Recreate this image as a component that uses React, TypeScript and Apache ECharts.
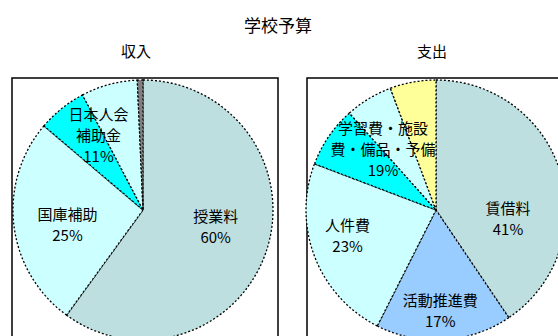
import React, { useEffect, useRef } from "react";
import * as echarts from "echarts";

const chartTitle = "学校予算";
const incomeTitle = "収入";
const expenseTitle = "支出";

const incomeCategories = ["授業料", "国庫補助", "日本人会補助金", "その他", "雑収入"];
const incomeValues = [60, 26.2, 6.1, 7.0, 0.7];
const incomeLabels = ["授業料\n60%", "国庫補助\n25%", "日本人会\n補助金\n11%", "", ""];
const incomeColors = ["#BEDFE0", "#CCFFFF", "#00FFFF", "#CCFFFF", "#7F7F7F"];
const incomeOffsets = [[8, -5], [-8, 6], [-2, -22], [0, 0], [0, 0]];

const expenseCategories = ["賃借料", "活動推進費", "人件費", "学習費", "施設費", "予備費"];
const expenseValues = [40.5, 16.9, 23.3, 7.6, 5.9, 5.7];
const expenseLabels = ["賃借料\n41%", "活動推進費\n17%", "人件費\n23%", "学習費・施設\n費・備品・予備\n19%", "", ""];
const expenseColors = ["#BEDFE0", "#99CCFF", "#CCFFFF", "#00FFFF", "#CCFFFF", "#FFFF99"];
const expenseOffsets = [[7, 28], [0, 32], [-25, 0], [3, -23], [0, 0], [0, 0]];

const FONT = '"Noto Sans CJK JP", sans-serif';

function buildData(cats: string[], vals: number[], labels: string[], colors: string[], offsets: number[][]) {
  return cats.map((name, i) => ({
    name,
    value: vals[i],
    itemStyle: { color: colors[i] },
    label: labels[i]
      ? { show: true, formatter: labels[i], offset: offsets[i] }
      : { show: false },
  }));
}

export default function App() {
  const ref = useRef<HTMLDivElement>(null);
  useEffect(() => {
    if (!ref.current) return;
    const chart = echarts.init(ref.current, undefined, { renderer: "svg" });
    const pieCommon = {
      type: "pie",
      radius: 130,
      startAngle: 90,
      clockwise: true,
      silent: true,
      avoidLabelOverlap: false,
      labelLine: { show: false },
      emphasis: { disabled: true },
      itemStyle: { borderColor: "#000", borderWidth: 1.3, borderType: [2, 2] },
      label: {
        show: true,
        position: "inside",
        color: "#000",
        fontFamily: FONT,
        fontSize: 15,
        lineHeight: 21,
        align: "center",
      },
    };
    chart.setOption({
      animation: false,
      backgroundColor: "#fff",
      graphic: [
        {
          type: "text",
          x: 278,
          y: 24,
          style: { text: chartTitle, font: `17px ${FONT}`, fill: "#000", align: "center", verticalAlign: "middle", textAlign: "center", textVerticalAlign: "middle" },
        },
        {
          type: "text",
          x: 136,
          y: 50,
          style: { text: incomeTitle, font: `15px ${FONT}`, fill: "#000", align: "center", verticalAlign: "middle", textAlign: "center", textVerticalAlign: "middle" },
        },
        {
          type: "text",
          x: 432,
          y: 50,
          style: { text: expenseTitle, font: `15px ${FONT}`, fill: "#000", align: "center", verticalAlign: "middle", textAlign: "center", textVerticalAlign: "middle" },
        },
        {
          type: "rect",
          shape: { x: 12, y: 78, width: 266, height: 300 },
          style: { fill: "none", stroke: "#000", lineWidth: 1.5 },
        },
        {
          type: "rect",
          shape: { x: 307, y: 78, width: 300, height: 300 },
          style: { fill: "none", stroke: "#000", lineWidth: 1.5 },
        },
      ],
      series: [
        {
          ...pieCommon,
          name: incomeTitle,
          center: [143, 210],
          data: buildData(incomeCategories, incomeValues, incomeLabels, incomeColors, incomeOffsets),
        },
        {
          ...pieCommon,
          name: expenseTitle,
          center: [436, 210],
          data: buildData(expenseCategories, expenseValues, expenseLabels, expenseColors, expenseOffsets),
        },
      ],
    });
    return () => chart.dispose();
  }, []);
  return <div ref={ref} style={{ position: "absolute", left: 0, top: 0, width: 558, height: 336 }} />;
}
